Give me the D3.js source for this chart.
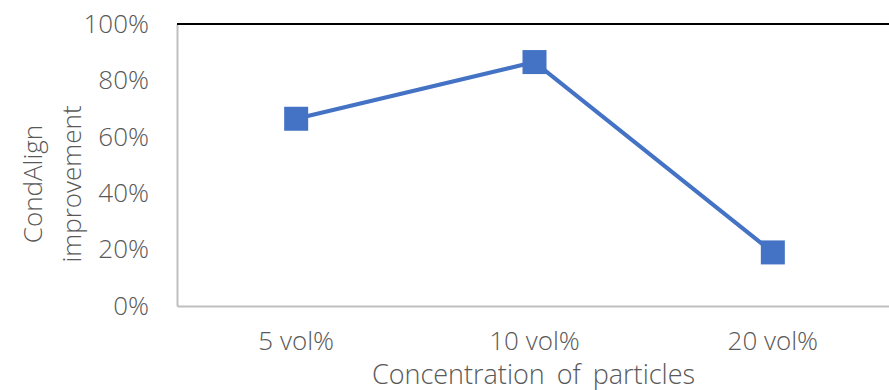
<!DOCTYPE html>
<html>
<head>
<meta charset="utf-8">
<script src="https://cdn.jsdelivr.net/npm/d3@7"></script>
<style>
  html, body { margin: 0; padding: 0; background: #fff; }
  svg { display: block; }
  text { font-family: "Open Sans", "Segoe UI", sans-serif; font-weight: 300; fill: #595959; }
</style>
</head>
<body>
<svg id="chart" width="889" height="390"></svg>
<script>
// Chart data
const categories = ["5 vol%", "10 vol%", "20 vol%"];
const improvement = [0.664, 0.865, 0.19];
const yTicks = [0, 0.2, 0.4, 0.6, 0.8, 1.0];
const xTitle = "Concentration of particles";
const yTitleLines = ["CondAlign", "improvement"];

const svg = d3.select("#chart");
const plot = { left: 177, top: 24, width: 715, height: 282 };

const x = d3.scaleBand().domain(categories).range([plot.left, plot.left + plot.width]);
const y = d3.scaleLinear().domain([0, 1]).range([plot.top + plot.height, plot.top]);
const fmt = d3.format(".0%");

// Left axis
const yAxis = svg.append("g")
  .attr("transform", `translate(${plot.left},0)`)
  .call(d3.axisLeft(y).tickValues(yTicks).tickFormat(fmt).tickSize(0).tickPadding(28));
yAxis.select(".domain").attr("stroke", "#bfbfbf").attr("stroke-width", 2);
yAxis.selectAll("text").style("font-size", "26px").attr("fill", "#595959").attr("font-family", null);

// Bottom axis
const xAxis = svg.append("g")
  .attr("transform", `translate(0,${plot.top + plot.height})`)
  .call(d3.axisBottom(x).tickSize(0).tickPadding(26));
xAxis.select(".domain").attr("stroke", "#bfbfbf").attr("stroke-width", 2);
xAxis.selectAll("text").style("font-size", "26px").attr("fill", "#595959").attr("font-family", null);

// Top border line at 100%
svg.append("line")
  .attr("x1", plot.left).attr("x2", plot.left + plot.width)
  .attr("y1", y(1)).attr("y2", y(1))
  .attr("stroke", "#000").attr("stroke-width", 2);

// Series line
const cx = d => x(d) + x.bandwidth() / 2;
svg.append("path")
  .datum(categories.map((c, i) => [cx(c), y(improvement[i])]))
  .attr("fill", "none")
  .attr("stroke", "#4472c4")
  .attr("stroke-width", 4)
  .attr("stroke-linejoin", "round")
  .attr("d", d3.line());

// Square markers
const m = 24;
svg.selectAll("rect.marker")
  .data(categories)
  .join("rect")
  .attr("class", "marker")
  .attr("x", (c) => cx(c) - m / 2)
  .attr("y", (c, i) => y(improvement[i]) - m / 2)
  .attr("width", m).attr("height", m)
  .attr("fill", "#4472c4");

// Axis titles
svg.append("text")
  .attr("x", x(categories[1]) + x.bandwidth() / 2 - 1)
  .attr("y", 384)
  .attr("text-anchor", "middle")
  .style("font-size", "27px")
  .style("word-spacing", "5px")
  .text(xTitle);

const yt = svg.append("text")
  .attr("transform", "translate(0,184) rotate(-90)")
  .attr("text-anchor", "middle")
  .style("font-size", "26px");
yt.selectAll("tspan")
  .data(yTitleLines)
  .join("tspan")
  .attr("x", 0)
  .attr("y", (d, i) => 42 + i * 39)
  .text(d => d);
</script>
</body>
</html>
